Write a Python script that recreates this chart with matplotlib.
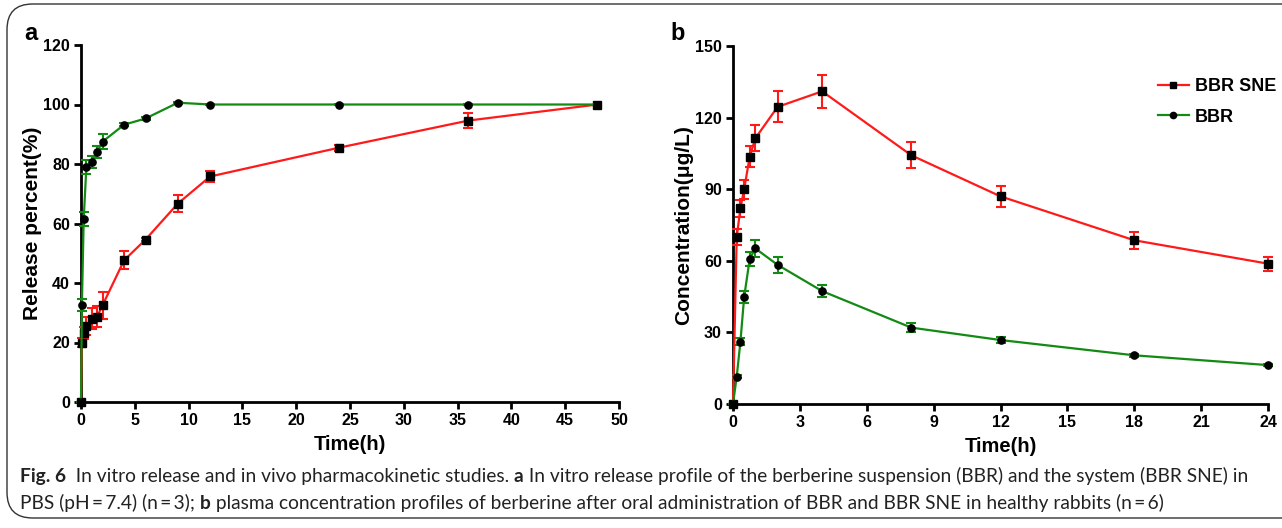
import matplotlib
matplotlib.use("Agg")
import matplotlib.pyplot as plt
from matplotlib.patches import FancyBboxPatch
from matplotlib.lines import Line2D

# ---------------- data ----------------
# Panel a: in vitro release
a_time = [0, 0.083, 0.25, 0.5, 1, 1.5, 2, 4, 6, 9, 12, 24, 36, 48]
a_sne = [0, 20.0, 23.3, 25.6, 28.0, 28.7, 32.5, 47.6, 54.6, 66.7, 75.8, 85.5, 94.6, 100.0]
a_sne_err = [0, 1.5, 2.0, 3.0, 3.5, 3.5, 4.5, 3.0, 0.5, 3.0, 1.8, 1.0, 2.5, 0]
a_bbr = [0, 32.5, 61.5, 79.0, 80.6, 84.1, 87.5, 93.2, 95.3, 100.6, 100.0, 100.0, 100.0, 100.0]
a_bbr_err = [0, 2.0, 2.2, 2.5, 2.0, 2.0, 2.5, 0.5, 0.5, 0.3, 0.3, 0.3, 0.3, 0]
a_xticks = [0, 5, 10, 15, 20, 25, 30, 35, 40, 45, 50]
a_yticks = [0, 20, 40, 60, 80, 100, 120]

# Panel b: plasma concentration
b_time = [0, 0.167, 0.333, 0.5, 0.75, 1, 2, 4, 8, 12, 18, 24]
b_sne = [0, 70.0, 82.0, 90.0, 103.6, 111.3, 124.5, 131.0, 104.2, 87.0, 68.6, 58.8]
b_sne_err = [0, 3.5, 3.5, 4.0, 4.5, 5.5, 6.5, 7.0, 5.5, 4.5, 3.5, 3.0]
b_bbr = [0, 11.5, 26.1, 44.8, 60.8, 65.2, 58.3, 47.3, 32.0, 26.8, 20.4, 16.3]
b_bbr_err = [0, 0.5, 1.5, 2.5, 3.0, 3.5, 3.5, 2.5, 1.8, 1.3, 0.5, 0.5]
b_xticks = [0, 3, 6, 9, 12, 15, 18, 21, 24]
b_yticks = [0, 30, 60, 90, 120, 150]

labels = ["BBR SNE", "BBR"]

RED = "#ff1a1a"
GREEN = "#138a13"

W, H = 1282, 528
fig = plt.figure(figsize=(W / 100, H / 100), dpi=100)
plt.rcParams['font.family'] = ['Liberation Sans', 'DejaVu Sans']

# frame with rounded corners
box = FancyBboxPatch((7 / W, 10 / H), (W + 40) / W, (H - 14) / H,
                     boxstyle="round,pad=0,rounding_size=0.02",
                     transform=fig.transFigure, fill=False, lw=1.0,
                     edgecolor="#333333", mutation_aspect=W / H)
fig.patches.append(box)


def style(ax):
    for s in ["top", "right"]:
        ax.spines[s].set_visible(False)
    for s in ["left", "bottom"]:
        ax.spines[s].set_linewidth(2.0)
    ax.tick_params(direction="out", width=2.0, length=5, labelsize=11.5, pad=3)
    for lab in ax.get_xticklabels() + ax.get_yticklabels():
        lab.set_fontweight("bold")


def plot_series(ax, t, y, e, color, marker, ms, label):
    ax.errorbar(t, y, yerr=e, color=color, lw=1.6, elinewidth=1.5, capsize=3.5,
                capthick=1.5, marker=marker, ms=ms, mfc="black", mec="black",
                label=label, zorder=3, clip_on=False)


# ---- panel a ----
axa = fig.add_axes([81 / W, 1 - 402 / H, (619 - 81) / W, (402 - 45) / H])
plot_series(axa, a_time, a_sne, a_sne_err, RED, "s", 5.5, labels[0])
plot_series(axa, a_time, a_bbr, a_bbr_err, GREEN, "o", 5.2, labels[1])
axa.set_xlim(0, 50)
axa.set_ylim(0, 120)
axa.set_xticks(a_xticks)
axa.set_yticks(a_yticks)
style(axa)
axa.set_xlabel("Time(h)", fontsize=14.5, fontweight="bold", labelpad=5)
axa.set_ylabel("Release percent(%)", fontsize=15, fontweight="bold", labelpad=1)

# ---- panel b ----
axb = fig.add_axes([733 / W, 1 - 404 / H, (1268 - 733) / W, (404 - 46) / H])
plot_series(axb, b_time, b_sne, b_sne_err, RED, "s", 5.5, labels[0])
plot_series(axb, b_time, b_bbr, b_bbr_err, GREEN, "o", 5.2, labels[1])
axb.set_xlim(0, 24)
axb.set_ylim(0, 150)
axb.set_xticks(b_xticks)
axb.set_yticks(b_yticks)
style(axb)
axb.set_xlabel("Time(h)", fontsize=14.5, fontweight="bold", labelpad=5)
axb.set_ylabel("Concentration(μg/L)", fontsize=15, fontweight="bold", labelpad=1)

handles = [Line2D([], [], color=RED, lw=1.6, marker="s", ms=4.5, mfc="black", mec="black"),
           Line2D([], [], color=GREEN, lw=1.6, marker="o", ms=4.5, mfc="black", mec="black")]
leg = axb.legend(handles, labels, loc="center left", bbox_to_anchor=(1158 / W, 1 - 102 / H),
                 bbox_transform=fig.transFigure, frameon=False,
                 prop={"weight": "bold", "size": 13}, handlelength=1.7,
                 handletextpad=0.35, labelspacing=0.75, borderpad=0, borderaxespad=0)

# panel letters
fig.text(24 / W, 1 - 34 / H, "a", fontsize=17, fontweight="bold", va="center")
fig.text(670 / W, 1 - 34 / H, "b", fontsize=17, fontweight="bold", va="center")

# caption with mixed weights
cap_font = ['Lato', 'DejaVu Sans']
cap_size = 13.8
line1 = [("Fig. 6", "bold"), ("  In vitro release and in vivo pharmacokinetic studies. ", "normal"),
         ("a", "bold"), (" In vitro release profile of the berberine suspension (BBR) and the system (BBR SNE) in", "normal")]
line2 = [("PBS (pH\u2009=\u20097.4) (n\u2009=\u20093); ", "normal"), ("b", "bold"),
         (" plasma concentration profiles of berberine after oral administration of BBR and BBR SNE in healthy rabbits (n\u2009=\u20096)", "normal")]

fig.canvas.draw()
renderer = fig.canvas.get_renderer()


def draw_runs(runs, x0, y):
    x = x0
    for txt, wt in runs:
        t = fig.text(x / W, 1 - y / H, txt, fontsize=cap_size, fontweight=wt,
                     family=cap_font, va="baseline", ha="left", color="#222222")
        bb = t.get_window_extent(renderer=renderer)
        x += bb.width


draw_runs(line1, 20, 482)
draw_runs(line2, 20, 509)

fig.savefig("out.png", dpi=100)
